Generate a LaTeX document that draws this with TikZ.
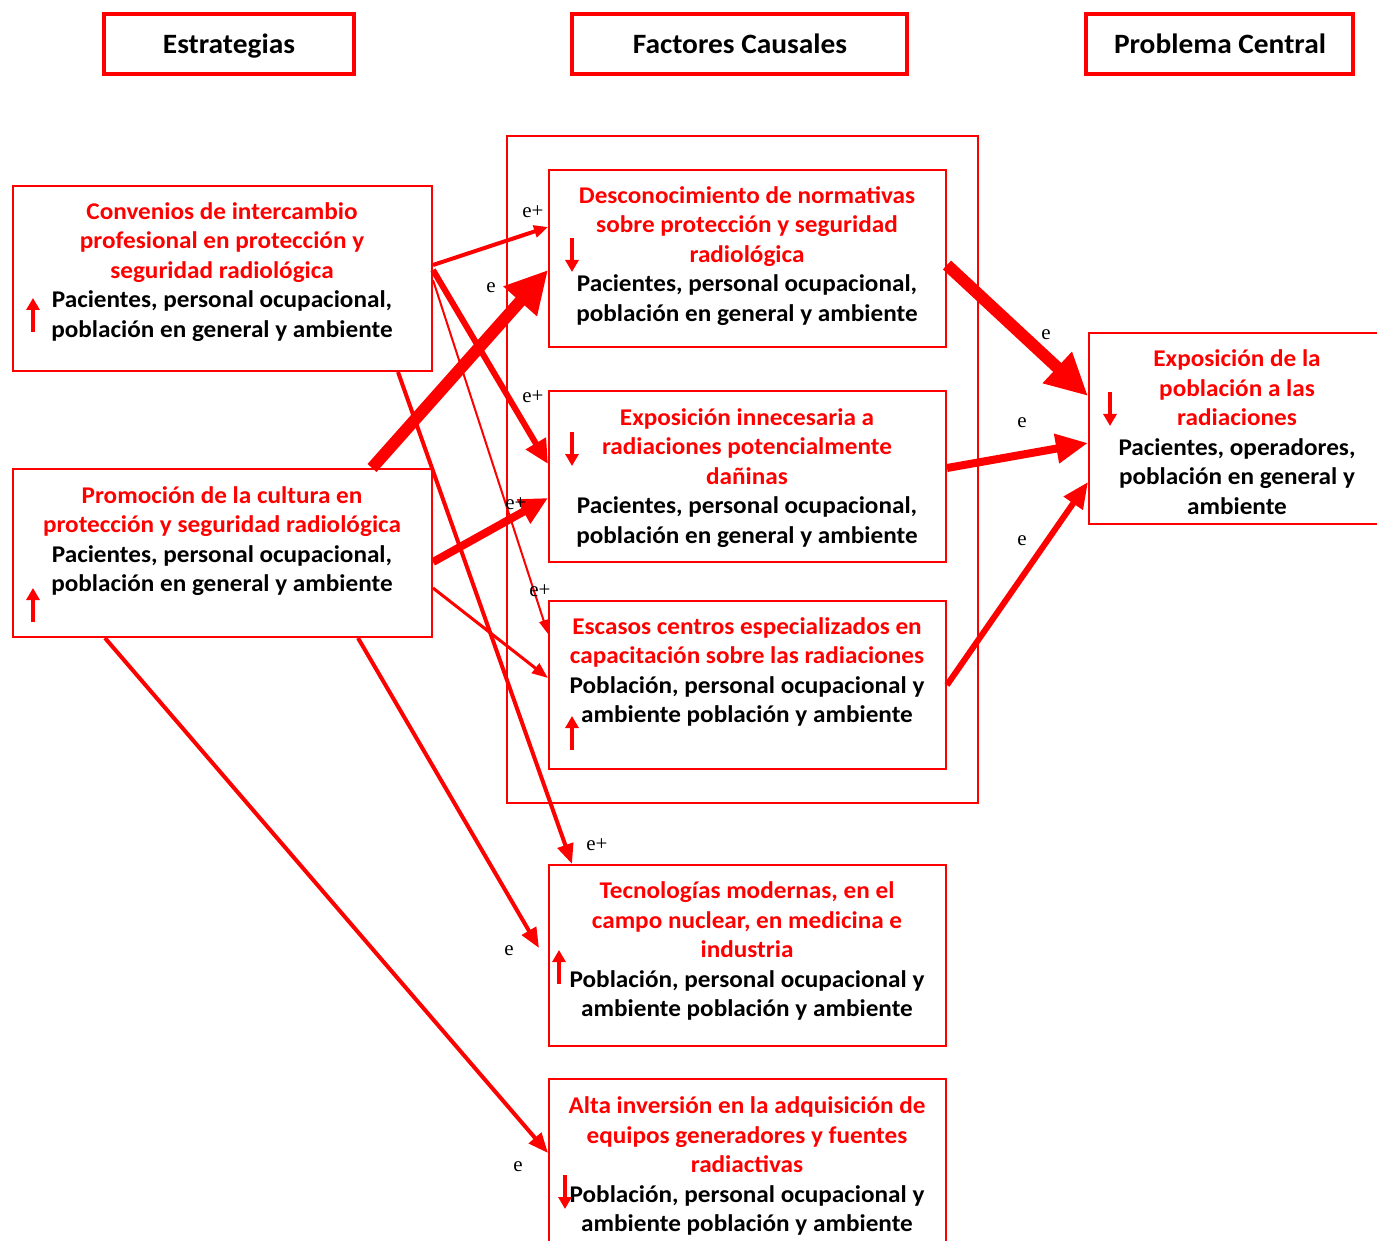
\documentclass[tikz,border=0pt]{standalone}
\usepackage{fontspec}
\setmainfont{Carlito}[FakeStretch=1.05]
\newfontfamily\seriflbl{Liberation Serif}
\usetikzlibrary{arrows.meta,fit,calc}
\begin{document}
\begin{tikzpicture}[x=0.5pt,y=-0.5pt,
  box/.style={draw=red,line width=1pt,inner sep=0pt},
  hbox/.style={draw=red,line width=2pt,inner sep=0pt},
  txt/.style={align=center,font=\bfseries\fontsize{12}{14.75}\selectfont,inner sep=0pt},
  htxt/.style={font=\bfseries\fontsize{14}{16}\selectfont,inner sep=0pt,anchor=base},
  lbl/.style={font=\seriflbl\fontsize{10.5}{12}\selectfont,inner sep=0pt},
  conn/.style={draw=red},
  mini/.style={draw=red,line width=1.6pt,-{Triangle[length=6pt,width=6.5pt]}}
]
\useasboundingbox (0,0) rectangle (1377,1241);
\fill[white] (0,0) rectangle (1377,1241);

% header boxes
\node[hbox,fit={(104,14) (354,74)}] (h1) {};
\node[htxt] (h1t) at (229,54) {Estrategias};
\node[hbox,fit={(572,14) (907,74)}] (h2) {};
\node[htxt] (h2t) at (740,54) {Factores Causales};
\node[hbox,fit={(1086,14) (1353,74)}] (h3) {};
\node[htxt] (h3t) at (1220,54) {Problema Central};

% group rectangle
\node[box,fit={(507,136) (978,803)}] (grp) {};

% boxes
\node[box,fit={(13,186) (432,371)}] (conv) {};
\node[box,fit={(13,469) (432,637)}] (prom) {};
\node[box,fit={(549,170) (946,347)}] (fa) {};
\node[box,fit={(549,391) (946,562)}] (fb) {};
\node[box,fit={(549,601) (946,769)}] (fc) {};
\node[box,fit={(549,865) (946,1046)}] (fd) {};
\node[box,fit={(549,1079) (946,1260)}] (fe) {};
\node[box,fit={(1089,333) (1390,524)}] (pc) {};

% texts
\node[txt] (convt) at (222,272) {\textcolor{red}{Convenios de intercambio}\\\textcolor{red}{profesional en protección y}\\\textcolor{red}{seguridad radiológica}\\Pacientes, personal ocupacional,\\población en general y ambiente};
\node[txt] (promt) at (222,541) {\textcolor{red}{Promoción de la cultura en}\\\textcolor{red}{protección y seguridad radiológica}\\Pacientes, personal ocupacional,\\población en general y ambiente};
\node[txt] (fat) at (747,256) {\textcolor{red}{Desconocimiento de normativas}\\\textcolor{red}{sobre protección y seguridad}\\\textcolor{red}{radiológica}\\Pacientes, personal ocupacional,\\población en general y ambiente};
\node[txt] (fbt) at (747,478) {\textcolor{red}{Exposición innecesaria a}\\\textcolor{red}{radiaciones potencialmente}\\\textcolor{red}{dañinas}\\Pacientes, personal ocupacional,\\población en general y ambiente};
\node[txt] (fct) at (747,672) {\textcolor{red}{Escasos centros especializados en}\\\textcolor{red}{capacitación sobre las radiaciones}\\Población, personal ocupacional y\\ambiente población y ambiente};
\node[txt] (fdt) at (747,951) {\textcolor{red}{Tecnologías modernas, en el}\\\textcolor{red}{campo nuclear, en medicina e}\\\textcolor{red}{industria}\\Población, personal ocupacional y\\ambiente población y ambiente};
\node[txt] (fet) at (747,1166) {\textcolor{red}{Alta inversión en la adquisición de}\\\textcolor{red}{equipos generadores y fuentes}\\\textcolor{red}{radiactivas}\\Población, personal ocupacional y\\ambiente población y ambiente};
\node[txt] (pct) at (1237,432) {\textcolor{red}{Exposición de la}\\\textcolor{red}{población a las}\\\textcolor{red}{radiaciones}\\Pacientes, operadores,\\población en general y\\ambiente};

% mini arrows
\draw[mini] (33,332) -- (33,298);
\draw[mini] (33,622) -- (33,588);
\draw[mini] (572,238) -- (572,272);
\draw[mini] (572,432) -- (572,466);
\draw[mini] (572,750) -- (572,716);
\draw[mini] (559,984) -- (559,950);
\draw[mini] (565,1175) -- (565,1209);
\draw[mini] (1110,392) -- (1110,426);

% connectors
\draw[conn,line width=2pt,-{Triangle[length=7pt,width=6pt]}] (conv.east |- 0,265) -- (fa.west |- 0,227);
\draw[conn,line width=6pt,-{Triangle[length=21pt,width=21pt]}] (prom.north west -| 372,0) -- (fa.west |- 0,270);
\draw[conn,line width=3pt,-{Triangle[length=12pt,width=11pt]}] (conv.east |- 0,270) -- (fb.west |- 0,464);
\draw[conn,line width=4pt,-{Triangle[length=14pt,width=13pt]}] (prom.east |- 0,562) -- (fb.west |- 0,498);
\draw[conn,line width=1pt,-{Triangle[length=7pt,width=4.5pt]}] (conv.east |- 0,280) -- (fc.west |- 0,634);
\draw[conn,line width=1.5pt,-{Triangle[length=8pt,width=6pt]}] (prom.east |- 0,588) -- (fc.west |- 0,678);
\draw[conn,line width=2pt,-{Triangle[length=10pt,width=8pt]}] (conv.south west -| 398,0) -- (fd.north west -| 572,0);
\draw[conn,line width=2pt,-{Triangle[length=10pt,width=8pt]}] (prom.south west -| 358,0) -- ($(fd.west |- 0,948)+(-9,0)$);
\draw[conn,line width=2pt,-{Triangle[length=10pt,width=8pt]}] (prom.south west -| 105,0) -- (fe.west |- 0,1153);
\draw[conn,line width=6pt,-{Triangle[length=21pt,width=20pt]}] (fa.east |- 0,265) -- (pc.west |- 0,396);
\draw[conn,line width=4pt,-{Triangle[length=16pt,width=14pt]}] (fb.east |- 0,468) -- (pc.west |- 0,443);
\draw[conn,line width=3pt,-{Triangle[length=13pt,width=11pt]}] (fc.east |- 0,685) -- (pc.west |- 0,482);

% labels
\node[lbl] (l1) at (533,212) {e+};
\node[lbl] (l2) at (491,288) {e};
\node[lbl] (l3) at (533,397) {e+};
\node[lbl] (l4) at (516,504) {e+};
\node[lbl] (l5) at (540,591) {e+};
\node[lbl] (l6) at (597,845) {e+};
\node[lbl] (l7) at (509,951) {e};
\node[lbl] (l8) at (518,1167) {e};
\node[lbl] (l9) at (1046,335) {e};
\node[lbl] (l10) at (1022,423) {e};
\node[lbl] (l11) at (1022,541) {e};
\end{tikzpicture}
\end{document}
